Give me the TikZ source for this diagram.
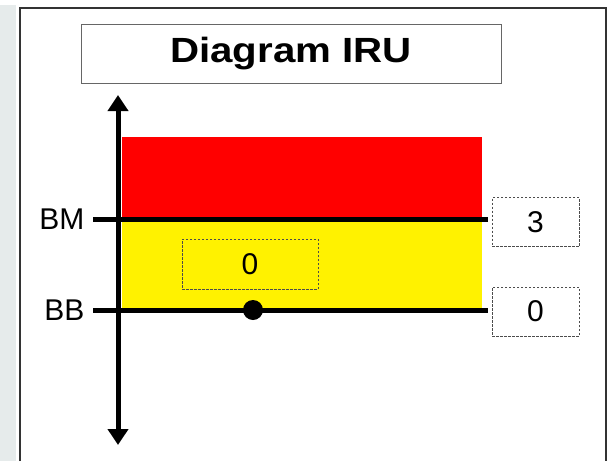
\documentclass[tikz,border=0pt]{standalone}
\usepackage{fontspec}
\setmainfont{Liberation Sans}
\newfontfamily\widefont[FakeStretch=1.15]{Liberation Sans}
\usetikzlibrary{arrows.meta,positioning}
\definecolor{stripgray}{RGB}{230,235,235}
\tikzset{
  level/.style={line width=5pt},
  valbox/.style={draw=black!70, dash pattern=on 2.5pt off 1.5pt, thin, inner sep=0pt, minimum width=87pt, minimum height=49pt, font=\fontsize{30}{30}\selectfont},
  lvlabel/.style={font=\fontsize{30}{30}\selectfont}
}
\begin{document}
\begin{tikzpicture}[x=1pt,y=-1pt]
	\useasboundingbox (0,0) rectangle (612,461);
	\fill[stripgray] (0,5) rectangle (16,461);
	\draw[line width=1.5pt, black!80] (20,461) -- (20,8) -- (606,8) -- (606,461);
	\node[draw=black!60, minimum width=420pt, minimum height=59pt, font=\widefont\bfseries\fontsize{35}{35}\selectfont] (title) at (291,53.5) {Diagram IRU};
	% zones
	\fill[red] (122,137) rectangle (482,219);
	\fill[yellow] (122,219) rectangle (482,310);
	\coordinate (bmL) at (93,219);
	\coordinate (bmR) at (488,219);
	\coordinate (bbL) at (93,310);
	\coordinate (bbR) at (488,310);
	\draw[level] (bmL) -- (bmR);
	\draw[level] (bbL) -- (bbR);
	\node[lvlabel, left=5pt of bmL] (bm) {BM};
	\node[lvlabel, left=5pt of bbL] (bb) {BB};
	% axis
	\coordinate (top) at (118,95);
	\coordinate (bot) at (118,445);
	\draw[line width=5pt, {Triangle[width=20pt,length=16pt]}-{Triangle[width=20pt,length=16pt]}] (bot) -- (top);
	\node[circle, fill=black, minimum size=20pt, inner sep=0pt] (dot) at (253,310) {};
	% values
	\node[valbox, minimum width=136pt, minimum height=50pt] (zone) at (250,264) {0};
	\node[valbox] (bmval) at (535.5,222) {3};
	\node[valbox] (bbval) at (535.5,311.5) {0};
\end{tikzpicture}
\end{document}
